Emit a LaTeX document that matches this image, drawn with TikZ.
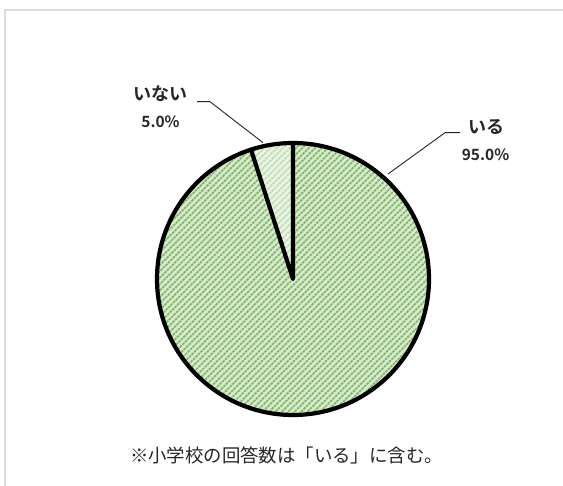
\documentclass[tikz,border=0pt]{standalone}
\usepackage{fontspec}
\newfontfamily\cjk{Noto Sans CJK JP}
\newfontfamily\cjkb{Noto Sans CJK JP Bold}
\definecolor{pielight}{HTML}{D2EEC2}
\definecolor{hatch}{HTML}{7FA570}
\definecolor{framegrey}{HTML}{DCDCDC}
\definecolor{ink}{HTML}{262626}
\tikzset{
 x=1pt,y=-1pt,
 kanalabel/.style={font=\cjkb\fontsize{18}{20}\selectfont,text=ink,inner sep=0pt},
 pctlabel/.style={font=\cjkb\fontsize{15.5}{18}\selectfont,text=ink,inner sep=0pt},
 leader/.style={draw=ink,line width=0.9pt},
 pieedge/.style={draw=black,line width=4.2pt,line join=round},
}
\begin{document}
\begin{tikzpicture}
\useasboundingbox (0,0) rectangle (563,486);
\fill[white] (0,0) rectangle (563,486);
\draw[framegrey,line width=1.6pt] (5,486) -- (5,10) -- (563,10);
\coordinate (c) at (293,279);
\coordinate (top) at (293,143);
\coordinate (sl) at (251,149.7);
\fill[pielight] (c) circle[radius=136];
\begin{scope}
 \clip (c) circle[radius=136];
 \foreach \k in {-60,...,60}{
  \draw[hatch,line width=1.7pt,opacity=.85,dash pattern=on 2.6pt off 0.9pt] (293+\k*6.4-150,429) -- (293+\k*6.4+150,129);
 }
\end{scope}
\fill[white,opacity=.5] (c) -- (top) arc[start angle=-90,end angle=-108,radius=136] -- cycle;
\draw[pieedge] (c) circle[radius=136];
\draw[pieedge] (top) -- (c) -- (sl);
\node[kanalabel] (no) at (160.5,94) {いない};
\node[pctlabel] (nop) at (160.5,122) {5.0\%};
\node[kanalabel] (yes) at (486,127) {いる};
\node[pctlabel] (yesp) at (485.5,155) {95.0\%};
\coordinate (noA) at (197,101.7);
\coordinate (noB) at (210,101.7);
\coordinate (noC) at (263,142.7);
\coordinate (yesA) at (460,132.7);
\coordinate (yesB) at (445,132.7);
\coordinate (yesC) at (388,174);
\draw[leader] (noA) -- (noB) -- (noC);
\draw[leader] (yesA) -- (yesB) -- (yesC);
\node[font=\cjk\fontsize{18.4}{20}\selectfont,text=ink,inner sep=0pt] (note) at (286.5,455) {※小学校の回答数は「いる」に含む。};
\end{tikzpicture}
\end{document}
